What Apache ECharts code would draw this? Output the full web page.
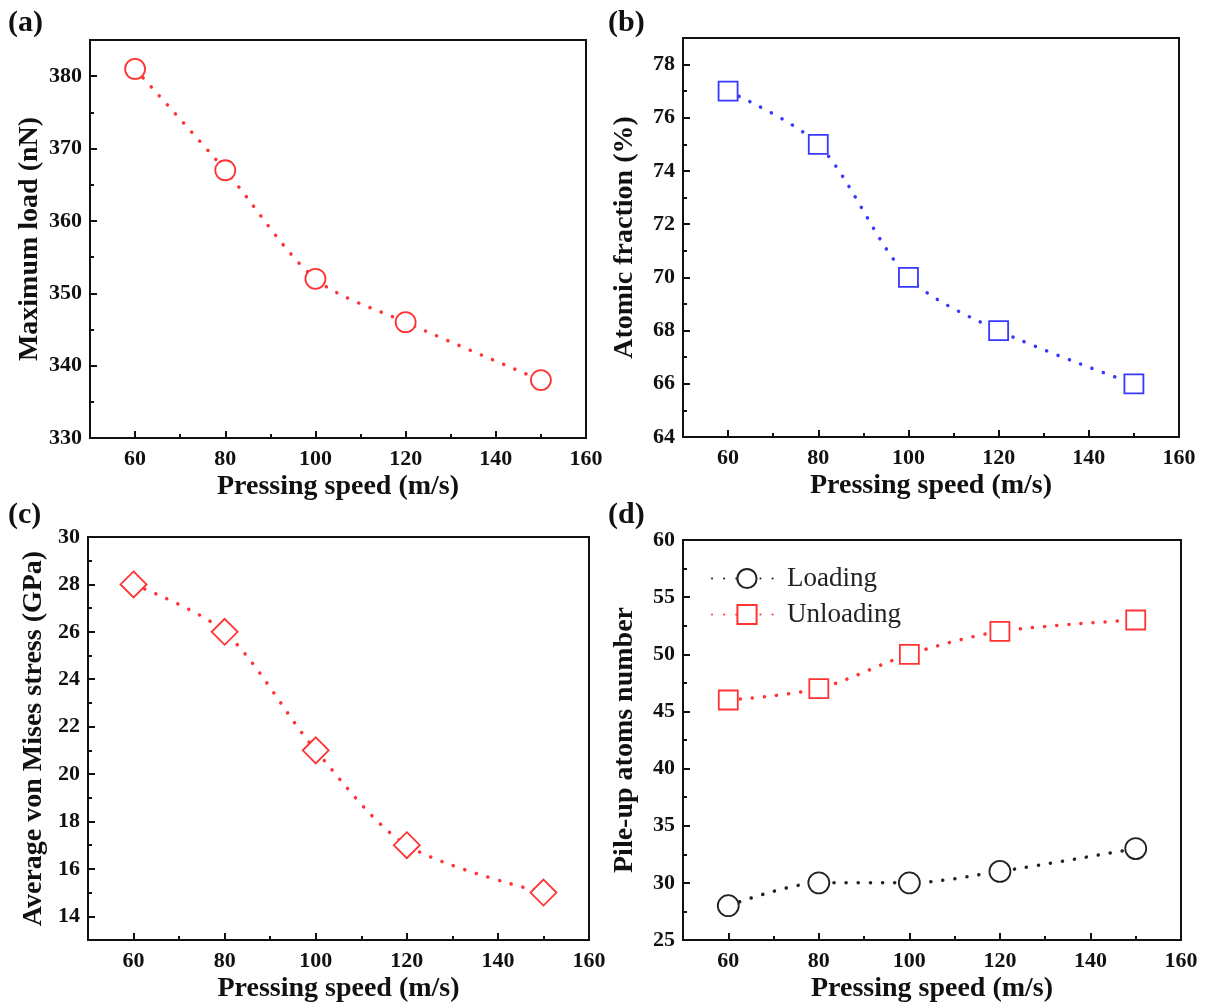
<!DOCTYPE html>
<html>
<head>
<meta charset="utf-8">
<script src="https://cdn.jsdelivr.net/npm/echarts@6/dist/echarts.min.js"></script>
<style>
html,body{margin:0;padding:0;background:#fff;}
#chart{width:1209px;height:1006px;}
</style>
</head>
<body>
<div id="chart"></div>
<script>
// ---- data ----
const speeds = [60, 80, 100, 120, 150];
const maxLoad = [381, 367, 352, 346, 338];
const atomicFraction = [77, 75, 70, 68, 66];
const vonMises = [28, 26, 21, 17, 15];
const pileLoading = [28, 30, 30, 31, 33];
const pileUnloading = [46, 47, 50, 52, 53];

const xMajor = [60, 80, 100, 120, 140, 160];
const xMinor = [70, 90, 110, 130, 150];
const yMajorA = [330, 340, 350, 360, 370, 380];
const yMinorA = [335, 345, 355, 365, 375];
const yMajorB = [64, 66, 68, 70, 72, 74, 76, 78];
const yMinorB = [65, 67, 69, 71, 73, 75, 77];
const yMajorC = [14, 16, 18, 20, 22, 24, 26, 28, 30];
const yMinorC = [13, 15, 17, 19, 21, 23, 25, 27, 29];
const yMajorD = [25, 30, 35, 40, 45, 50, 55, 60];
const yMinorD = [27.5, 32.5, 37.5, 42.5, 47.5, 52.5, 57.5];

const FONT = "'Liberation Serif', 'Times New Roman', serif";
const RED = '#ff3333';
const BLUE = '#3838ff';
const BLACK = '#222';

const grids = [
  {left: 90, top: 40, width: 496, height: 398},
  {left: 683, top: 38, width: 496, height: 399},
  {left: 88, top: 537, width: 501, height: 403},
  {left: 683, top: 540, width: 498, height: 400}
];
const yRanges = [[330, 385], [64, 79], [13, 30], [25, 60]];
const yMaj = [yMajorA, yMajorB, yMajorC, yMajorD];
const yMin = [yMinorA, yMinorB, yMinorC, yMinorD];
const yNames = ['Maximum load (nN)', 'Atomic fraction (%)', 'Average von Mises stress (GPa)', 'Pile-up atoms number'];
const yNameGaps = [46, 44, 40, 44];

const xAxes = [], yAxes = [];
grids.forEach((g, i) => {
  xAxes.push({
    type: 'value', gridIndex: i, min: 50, max: 160,
    name: 'Pressing speed (m/s)', nameLocation: 'middle', nameGap: 35,
    nameTextStyle: {fontFamily: FONT, fontWeight: 'bold', fontSize: 28, color: '#111'},
    axisLine: {show: true, lineStyle: {color: '#111', width: 2}},
    axisTick: {show: true, inside: true, length: 7, lineStyle: {color: '#111', width: 2}, customValues: xMajor},
    axisLabel: {show: true, fontFamily: FONT, fontWeight: 'bold', fontSize: 22, color: '#111', margin: 10, customValues: xMajor},
    splitLine: {show: false}
  });
  xAxes.push({
    type: 'value', gridIndex: i, min: 50, max: 160, position: 'bottom',
    axisLine: {show: false},
    axisTick: {show: true, inside: true, length: 4, lineStyle: {color: '#111', width: 2}, customValues: xMinor},
    axisLabel: {show: false},
    splitLine: {show: false}
  });
  yAxes.push({
    type: 'value', gridIndex: i, min: yRanges[i][0], max: yRanges[i][1],
    name: yNames[i], nameLocation: 'middle', nameGap: yNameGaps[i],
    nameTextStyle: {fontFamily: FONT, fontWeight: 'bold', fontSize: 28, color: '#111'},
    axisLine: {show: true, lineStyle: {color: '#111', width: 2}},
    axisTick: {show: true, inside: true, length: 7, lineStyle: {color: '#111', width: 2}, customValues: yMaj[i]},
    axisLabel: {show: true, fontFamily: FONT, fontWeight: 'bold', fontSize: 22, color: '#111', margin: 8, customValues: yMaj[i]},
    splitLine: {show: false}
  });
  yAxes.push({
    type: 'value', gridIndex: i, min: yRanges[i][0], max: yRanges[i][1], position: 'left',
    axisLine: {show: false},
    axisTick: {show: true, inside: true, length: 4, lineStyle: {color: '#111', width: 2}, customValues: yMin[i]},
    axisLabel: {show: false},
    splitLine: {show: false}
  });
});

function pairs(ys) { return speeds.map((x, k) => [x, ys[k]]); }

function mkSeries(name, gi, ys, color, symbol, size) {
  return {
    name: name, type: 'line', xAxisIndex: 2 * gi, yAxisIndex: 2 * gi,
    data: pairs(ys), smooth: 0.3,
    symbol: symbol, symbolSize: size, showAllSymbol: true,
    lineStyle: {color: color, width: 3.5, type: [0.1, 12], cap: 'round'},
    itemStyle: {color: '#fff', borderColor: color, borderWidth: 1.8},
    z: 3
  };
}

const series = [
  mkSeries('a', 0, maxLoad, RED, 'circle', 20),
  mkSeries('b', 1, atomicFraction, BLUE, 'rect', 19),
  mkSeries('c', 2, vonMises, RED, 'diamond', 26),
  mkSeries('Loading', 3, pileLoading, BLACK, 'circle', 21),
  mkSeries('Unloading', 3, pileUnloading, RED, 'rect', 19)
];

const panelLabels = [['(a)', 8, 8], ['(b)', 608, 8], ['(c)', 8, 500], ['(d)', 608, 500]];

const option = {
  backgroundColor: '#fff',
  animation: false,
  grid: grids.map(g => Object.assign({show: true, borderColor: '#111', borderWidth: 2, backgroundColor: 'transparent', containLabel: false}, g)),
  xAxis: xAxes,
  yAxis: yAxes,
  legend: {
    data: ['Loading', 'Unloading'], orient: 'vertical', left: 706, top: 560,
    itemWidth: 70, itemHeight: 24, itemGap: 9,
    textStyle: {fontFamily: FONT, fontSize: 27, color: '#222'}
  },
  graphic: panelLabels.map(p => ({
    type: 'text', left: p[1], top: p[2],
    style: {text: p[0], font: "bold 30px 'Liberation Serif', serif", fill: '#111'}
  })),
  series: series
};

const chart = echarts.init(document.getElementById('chart'), null, {renderer: 'canvas'});
chart.setOption(option);
</script>
</body>
</html>
